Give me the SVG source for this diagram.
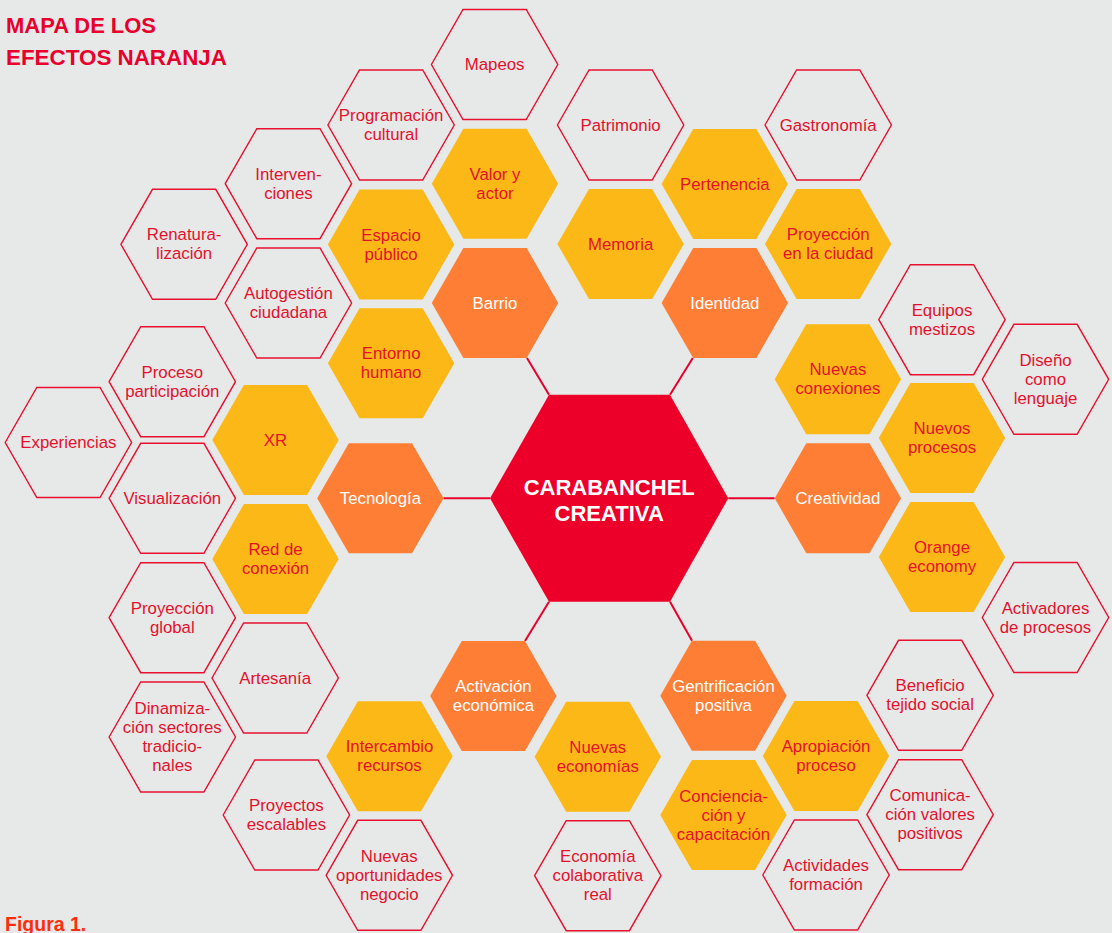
<svg xmlns="http://www.w3.org/2000/svg" xmlns:xlink="http://www.w3.org/1999/xlink" width="1112" height="933" viewBox="0 0 1112 933">
<defs>
<polygon id="hex" points="-63.2,0 -31.6,-55 31.6,-55 63.2,0 31.6,55 -31.6,55"/>
<style>
.out{fill:none;stroke:#e8102e;stroke-width:1.4}
.yel{fill:#fbb817}
.org{fill:#fe7e36}
text{font-family:"Liberation Sans",Arial,sans-serif;font-size:16.8px;text-anchor:middle}
.t{fill:#e5102c}
.w{fill:#ffffff}
.title{font-weight:bold;font-size:22px;fill:#e8002c;text-anchor:start}
.fig{font-weight:bold;font-size:19.5px;fill:#ff2d0a;text-anchor:start}
.conn line{stroke:#e8002c;stroke-width:2}
</style>
</defs>
<rect width="1112" height="933" fill="#e7e9e8"/>
<text class="title" x="6" y="33" textLength="150" lengthAdjust="spacingAndGlyphs">MAPA DE LOS</text>
<text class="title" x="6" y="65" textLength="221" lengthAdjust="spacingAndGlyphs">EFECTOS NARANJA</text>
<text class="fig" x="5" y="931">Figura 1.</text>
<g id="connectors" class="conn">
<line x1="527" y1="358" x2="549" y2="394.7"/>
<line x1="692.8" y1="358" x2="670" y2="394.7"/>
<line x1="443.6" y1="498.3" x2="490" y2="498.3"/>
<line x1="728.3" y1="498.3" x2="774.6" y2="498.3"/>
<line x1="525" y1="641" x2="549" y2="601.7"/>
<line x1="692" y1="640.7" x2="670" y2="601.7"/>
</g>
<g id="center">
<polygon points="490,498.3 549,394.7 670,394.7 728.3,498.3 670,601.7 549,601.7" fill="#ec0029"/>
<text class="w" style="font-weight:bold;font-size:22px"><tspan x="609.2" y="495">CARABANCHEL</tspan><tspan x="609.2" y="521">CREATIVA</tspan></text>
</g>
<g id="mapeos"><use xlink:href="#hex" class="out" x="494.6" y="64.5"/><text class="t"><tspan x="494.6" y="70">Mapeos</tspan></text></g>
<g id="programacion"><use xlink:href="#hex" class="out" x="391.1" y="125"/><text class="t"><tspan x="391.1" y="121">Programación</tspan><tspan x="391.1" y="140">cultural</tspan></text></g>
<g id="valor"><use xlink:href="#hex" class="yel" x="495" y="183.7"/><text class="t"><tspan x="495" y="179.7">Valor y</tspan><tspan x="495" y="198.7">actor</tspan></text></g>
<g id="intervenciones"><use xlink:href="#hex" class="out" x="288.4" y="183.7"/><text class="t"><tspan x="288.4" y="179.7">Interven-</tspan><tspan x="288.4" y="198.7">ciones</tspan></text></g>
<g id="espacio"><use xlink:href="#hex" class="yel" x="391.1" y="244.5"/><text class="t"><tspan x="391.1" y="240.5">Espacio</tspan><tspan x="391.1" y="259.5">público</tspan></text></g>
<g id="renaturalizacion"><use xlink:href="#hex" class="out" x="184.1" y="244.3"/><text class="t"><tspan x="184.1" y="240.3">Renatura-</tspan><tspan x="184.1" y="259.3">lización</tspan></text></g>
<g id="autogestion"><use xlink:href="#hex" class="out" x="288.4" y="303"/><text class="t"><tspan x="288.4" y="299">Autogestión</tspan><tspan x="288.4" y="318">ciudadana</tspan></text></g>
<g id="barrio"><use xlink:href="#hex" class="org" x="495" y="303"/><text class="w"><tspan x="495" y="308.5">Barrio</tspan></text></g>
<g id="entorno"><use xlink:href="#hex" class="yel" x="391.1" y="363.3"/><text class="t"><tspan x="391.1" y="359.3">Entorno</tspan><tspan x="391.1" y="378.3">humano</tspan></text></g>
<g id="patrimonio"><use xlink:href="#hex" class="out" x="620.6" y="125"/><text class="t"><tspan x="620.6" y="130.5">Patrimonio</tspan></text></g>
<g id="gastronomia"><use xlink:href="#hex" class="out" x="828.2" y="125"/><text class="t"><tspan x="828.2" y="130.5">Gastronomía</tspan></text></g>
<g id="pertenencia"><use xlink:href="#hex" class="yel" x="724.8" y="184"/><text class="t"><tspan x="724.8" y="189.5">Pertenencia</tspan></text></g>
<g id="memoria"><use xlink:href="#hex" class="yel" x="620.6" y="244"/><text class="t"><tspan x="620.6" y="249.5">Memoria</tspan></text></g>
<g id="proyeccion-ciudad"><use xlink:href="#hex" class="yel" x="828.2" y="244"/><text class="t"><tspan x="828.2" y="240">Proyección</tspan><tspan x="828.2" y="259">en la ciudad</tspan></text></g>
<g id="identidad"><use xlink:href="#hex" class="org" x="724.8" y="303"/><text class="w"><tspan x="724.8" y="308.5">Identidad</tspan></text></g>
<g id="equipos"><use xlink:href="#hex" class="out" x="942" y="319.7"/><text class="t"><tspan x="942" y="315.7">Equipos</tspan><tspan x="942" y="334.7">mestizos</tspan></text></g>
<g id="diseno"><use xlink:href="#hex" class="out" x="1045.5" y="379.3"/><text class="t"><tspan x="1045.5" y="365.8">Diseño</tspan><tspan x="1045.5" y="384.8">como</tspan><tspan x="1045.5" y="403.8">lenguaje</tspan></text></g>
<g id="nuevas-conexiones"><use xlink:href="#hex" class="yel" x="837.9" y="379.3"/><text class="t"><tspan x="837.9" y="375.3">Nuevas</tspan><tspan x="837.9" y="394.3">conexiones</tspan></text></g>
<g id="nuevos-procesos"><use xlink:href="#hex" class="yel" x="942" y="438"/><text class="t"><tspan x="942" y="434">Nuevos</tspan><tspan x="942" y="453">procesos</tspan></text></g>
<g id="creatividad"><use xlink:href="#hex" class="org" x="837.9" y="498.3"/><text class="w"><tspan x="837.9" y="503.8">Creatividad</tspan></text></g>
<g id="orange-economy"><use xlink:href="#hex" class="yel" x="942" y="557"/><text class="t"><tspan x="942" y="553">Orange</tspan><tspan x="942" y="572">economy</tspan></text></g>
<g id="activadores"><use xlink:href="#hex" class="out" x="1045.5" y="617.5"/><text class="t"><tspan x="1045.5" y="613.5">Activadores</tspan><tspan x="1045.5" y="632.5">de procesos</tspan></text></g>
<g id="proceso"><use xlink:href="#hex" class="out" x="172.3" y="381.7"/><text class="t"><tspan x="172.3" y="377.7">Proceso</tspan><tspan x="172.3" y="396.7">participación</tspan></text></g>
<g id="experiencias"><use xlink:href="#hex" class="out" x="68.4" y="442.5"/><text class="t"><tspan x="68.4" y="448">Experiencias</tspan></text></g>
<g id="xr"><use xlink:href="#hex" class="yel" x="275.5" y="440"/><text class="t"><tspan x="275.5" y="445.5">XR</tspan></text></g>
<g id="visualizacion"><use xlink:href="#hex" class="out" x="172.3" y="498.3"/><text class="t"><tspan x="172.3" y="503.8">Visualización</tspan></text></g>
<g id="tecnologia"><use xlink:href="#hex" class="org" x="380.4" y="498.3"/><text class="w"><tspan x="380.4" y="503.8">Tecnología</tspan></text></g>
<g id="red"><use xlink:href="#hex" class="yel" x="275.5" y="559"/><text class="t"><tspan x="275.5" y="555">Red de</tspan><tspan x="275.5" y="574">conexión</tspan></text></g>
<g id="proyeccion-global"><use xlink:href="#hex" class="out" x="172.3" y="617.7"/><text class="t"><tspan x="172.3" y="613.7">Proyección</tspan><tspan x="172.3" y="632.7">global</tspan></text></g>
<g id="artesania"><use xlink:href="#hex" class="out" x="275.2" y="678"/><text class="t"><tspan x="275.2" y="683.5">Artesanía</tspan></text></g>
<g id="dinamizacion"><use xlink:href="#hex" class="out" x="172.3" y="737"/><text class="t"><tspan x="172.3" y="714">Dinamiza-</tspan><tspan x="172.3" y="733">ción sectores</tspan><tspan x="172.3" y="752">tradicio-</tspan><tspan x="172.3" y="771">nales</tspan></text></g>
<g id="activacion"><use xlink:href="#hex" class="org" x="493.4" y="696"/><text class="w"><tspan x="493.4" y="692">Activación</tspan><tspan x="493.4" y="711">económica</tspan></text></g>
<g id="intercambio"><use xlink:href="#hex" class="yel" x="389.5" y="756.3"/><text class="t"><tspan x="389.5" y="752.3">Intercambio</tspan><tspan x="389.5" y="771.3">recursos</tspan></text></g>
<g id="proyectos"><use xlink:href="#hex" class="out" x="286.4" y="815"/><text class="t"><tspan x="286.4" y="811">Proyectos</tspan><tspan x="286.4" y="830">escalables</tspan></text></g>
<g id="oportunidades"><use xlink:href="#hex" class="out" x="389.3" y="875.3"/><text class="t"><tspan x="389.3" y="861.8">Nuevas</tspan><tspan x="389.3" y="880.8">oportunidades</tspan><tspan x="389.3" y="899.8">negocio</tspan></text></g>
<g id="nuevas-economias"><use xlink:href="#hex" class="yel" x="597.8" y="756.7"/><text class="t"><tspan x="597.8" y="752.7">Nuevas</tspan><tspan x="597.8" y="771.7">economías</tspan></text></g>
<g id="economia-colaborativa"><use xlink:href="#hex" class="out" x="597.8" y="875.7"/><text class="t"><tspan x="597.8" y="862.2">Economía</tspan><tspan x="597.8" y="881.2">colaborativa</tspan><tspan x="597.8" y="900.2">real</tspan></text></g>
<g id="gentrificacion"><use xlink:href="#hex" class="org" x="723.5" y="695.7"/><text class="w"><tspan x="723.5" y="691.7">Gentrificación</tspan><tspan x="723.5" y="710.7">positiva</tspan></text></g>
<g id="apropiacion"><use xlink:href="#hex" class="yel" x="826" y="756"/><text class="t"><tspan x="826" y="752">Apropiación</tspan><tspan x="826" y="771">proceso</tspan></text></g>
<g id="concienciacion"><use xlink:href="#hex" class="yel" x="723.5" y="815"/><text class="t"><tspan x="723.5" y="801.5">Conciencia-</tspan><tspan x="723.5" y="820.5">ción y</tspan><tspan x="723.5" y="839.5">capacitación</tspan></text></g>
<g id="actividades"><use xlink:href="#hex" class="out" x="826" y="875"/><text class="t"><tspan x="826" y="871">Actividades</tspan><tspan x="826" y="890">formación</tspan></text></g>
<g id="beneficio"><use xlink:href="#hex" class="out" x="930.1" y="695.3"/><text class="t"><tspan x="930.1" y="691.3">Beneficio</tspan><tspan x="930.1" y="710.3">tejido social</tspan></text></g>
<g id="comunicacion"><use xlink:href="#hex" class="out" x="930.1" y="814.7"/><text class="t"><tspan x="930.1" y="801.2">Comunica-</tspan><tspan x="930.1" y="820.2">ción valores</tspan><tspan x="930.1" y="839.2">positivos</tspan></text></g>
</svg>
